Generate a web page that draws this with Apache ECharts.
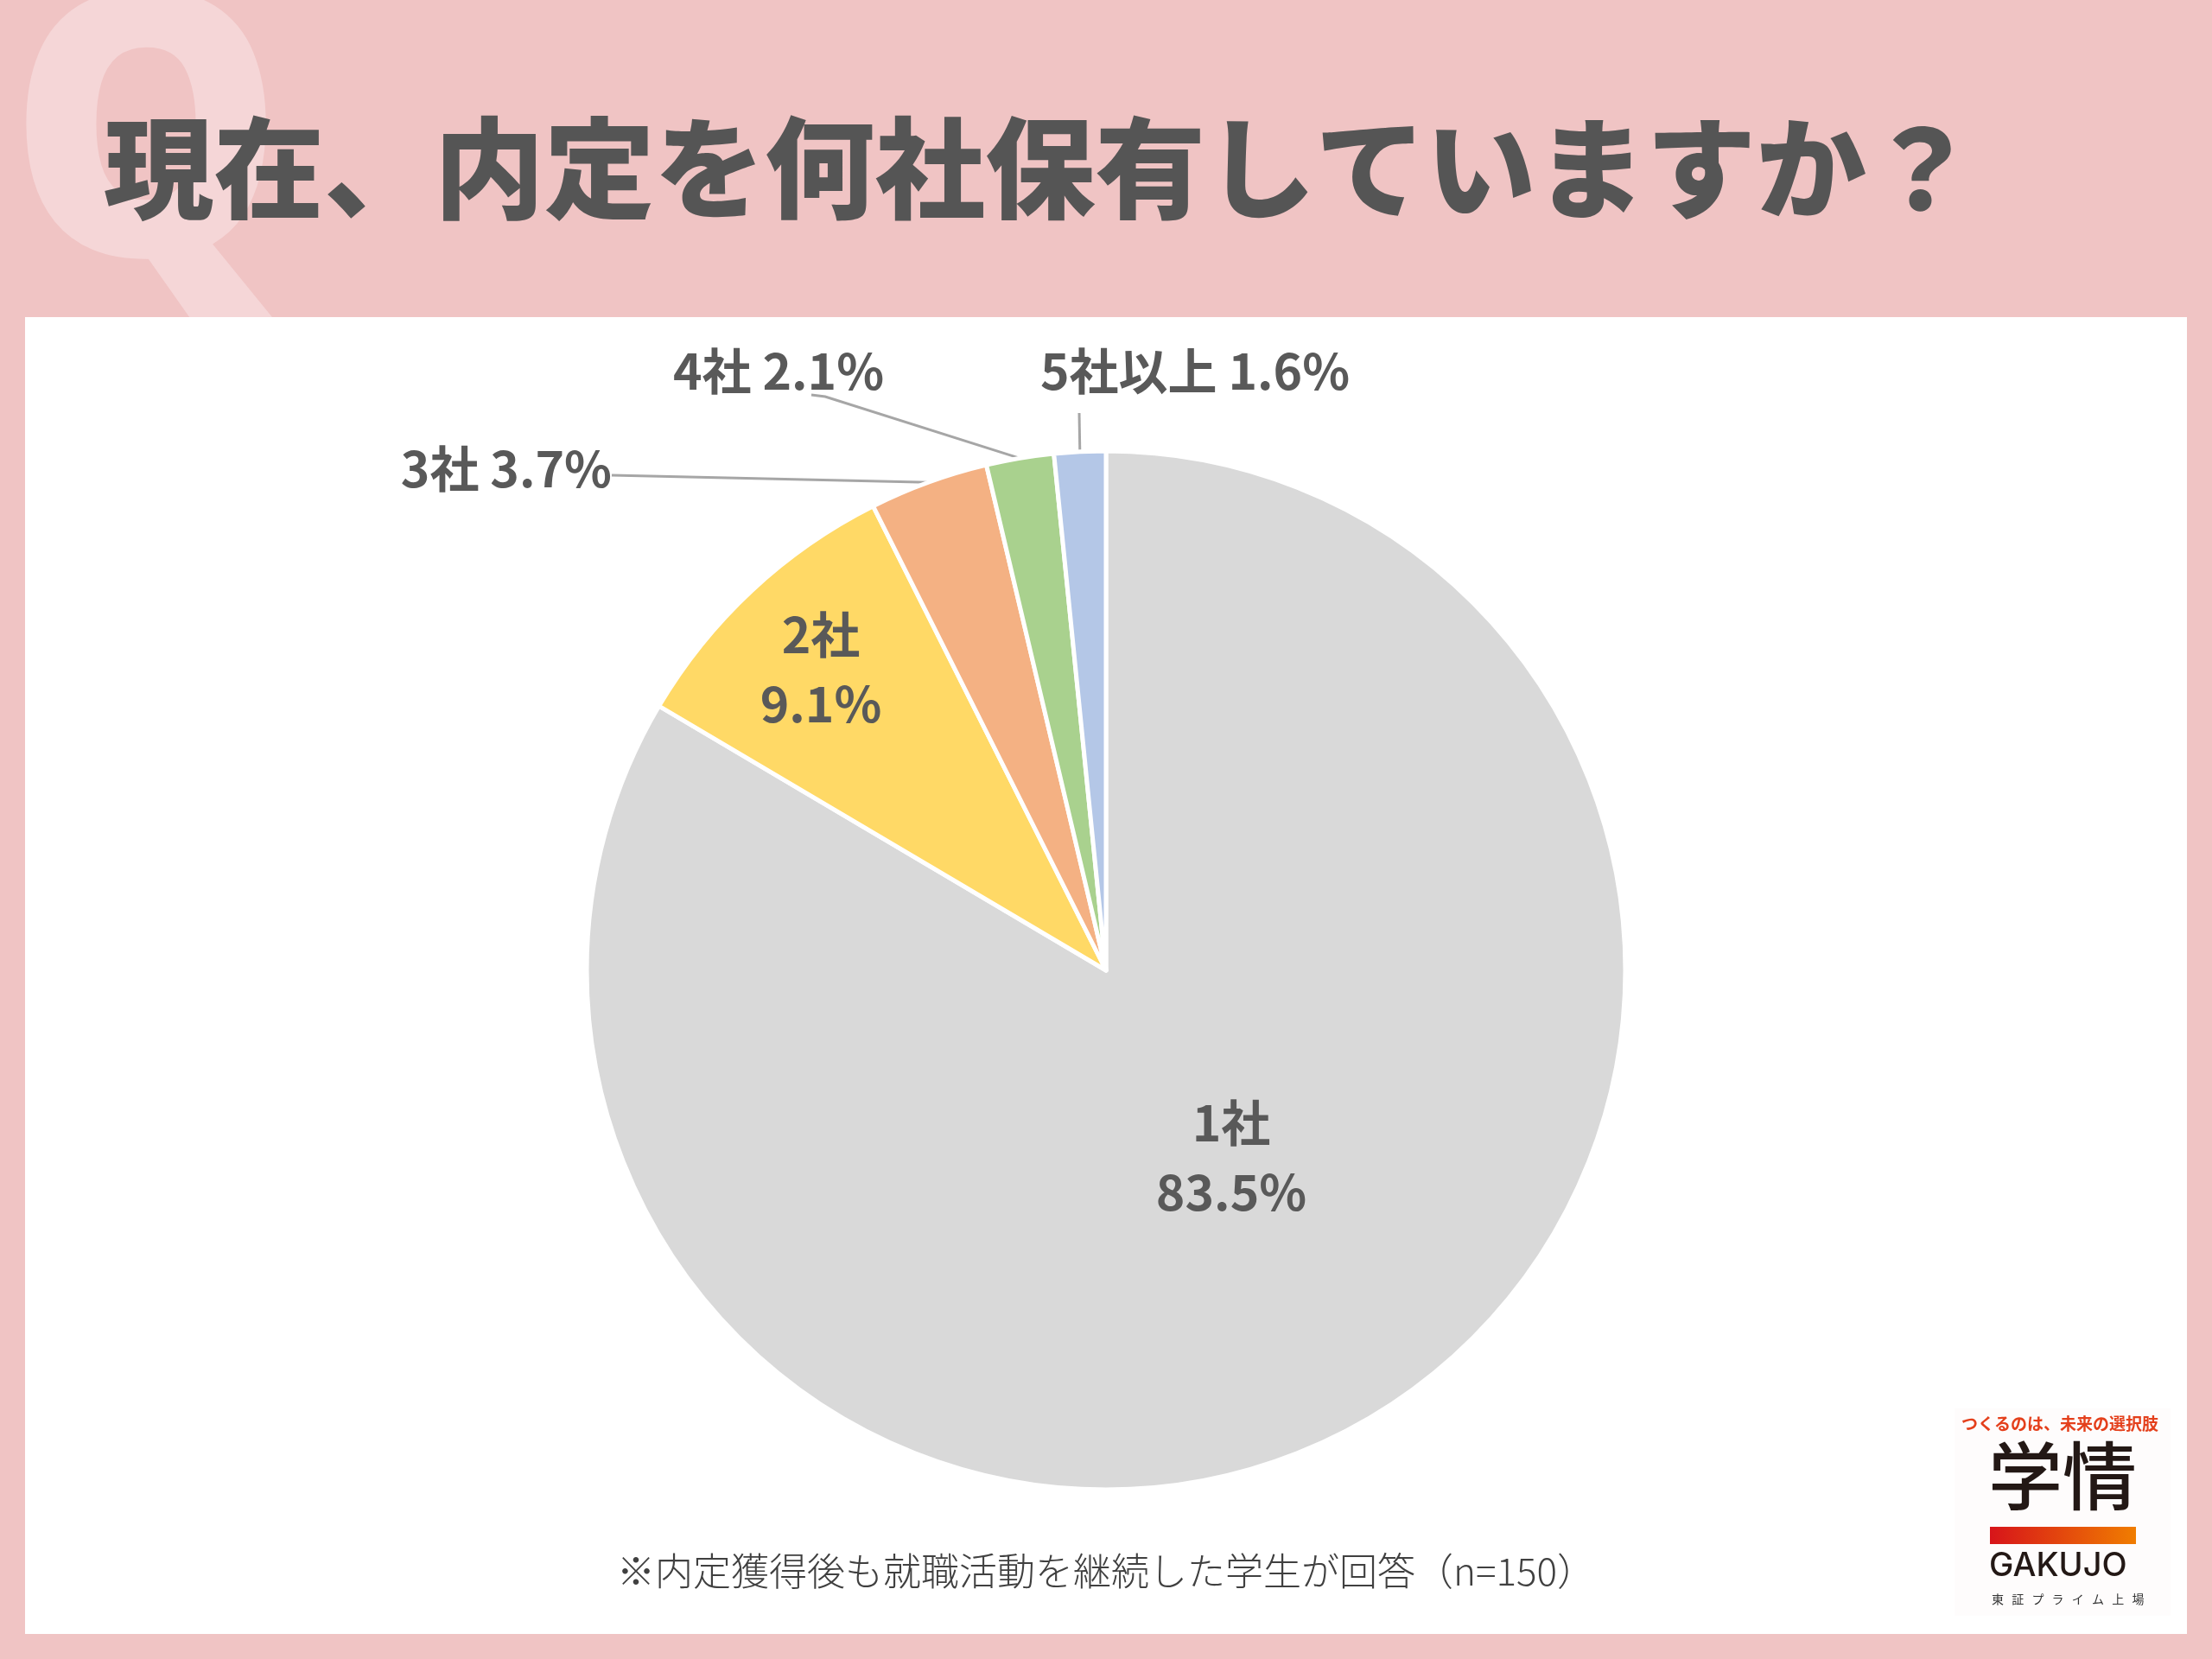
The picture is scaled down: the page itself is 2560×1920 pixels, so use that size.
<!DOCTYPE html>
<html><head><meta charset="utf-8">
<script src="https://cdn.jsdelivr.net/npm/echarts@6/dist/echarts.min.js"></script>
<style>html,body{margin:0;padding:0;background:#F0C4C4}#c{width:2560px;height:1920px}</style>
</head><body><div id="c"></div>
<script>
// ---- data ----
const categories = ['1社', '2社', '3社', '4社', '5社以上'];
const percents = [83.5, 9.1, 3.7, 2.1, 1.6];
const sliceColors = ['#D9D9D9', '#FFD966', '#F4B183', '#A9D18E', '#B4C7E7'];
const titleText = '現在、内定を何社保有していますか？';
const noteText = '※内定獲得後も就職活動を継続した学生が回答（n=150）';
const logoTagline = 'つくるのは、未来の選択肢';
const logoName = '学情';
const logoRoman = 'GAKUJO';
const logoSub = ['東', '証', 'プ', 'ラ', 'イ', 'ム', '上', '場'];

// ---- styling / layout ----
const FONT = '"Noto Sans CJK JP", "Noto Sans", sans-serif';
const insideIdx = [0, 1];
const labelPlace = [
  { x: 1425, y: 1339, align: 'center' },
  { x: 950, y: 774, align: 'center' },
  { x: 708, y: 542, align: 'right', line: [[708, 550]] },
  { x: 901, y: 429, align: 'center', line: [[955, 459], [939, 457]] },
  { x: 1383, y: 429, align: 'center', line: [[1249, 478]] }
];

const chart = echarts.init(document.getElementById('c'), null, { renderer: 'canvas' });

const pieData = categories.map((name, i) => ({
  name: name,
  value: percents[i],
  itemStyle: { color: sliceColors[i] },
  label: insideIdx.includes(i)
    ? { position: 'inside', formatter: '{b}\n{c}%', lineHeight: 80 }
    : { position: 'outside', formatter: '{b} {c}%' },
  labelLine: { show: !insideIdx.includes(i) }
}));

const subChars = logoSub.map((ch, i) => ({
  type: 'text', left: 2305 + i * 23.2, top: 1844, z: 3,
  style: { text: ch, font: '14px ' + FONT, fill: '#333' }
}));

chart.setOption({
  backgroundColor: '#F0C4C4',
  animation: false,
  graphic: [
    { type: 'text', left: 10, top: -38, z: 0, scaleX: 0.94,
      style: { text: 'Q', font: '900 425px "Noto Sans", sans-serif', fill: '#F5D6D7' } },
    { type: 'rect', shape: { x: 29, y: 367, width: 2502, height: 1524 }, z: 1,
      style: { fill: '#FFFFFF' } },
    { type: 'text', left: 120, top: 131, z: 2,
      style: { text: titleText, font: '900 127.5px ' + FONT, fill: '#555555' } },
    { type: 'text', left: 'center', top: 1796, z: 2,
      style: { text: noteText, font: '300 44px ' + FONT, fill: '#404040' } },
    { type: 'rect', shape: { x: 2262, y: 1630, width: 250, height: 240 }, z: 2,
      style: { fill: '#FEFCFC' } },
    { type: 'text', left: 2270, top: 1638, z: 3,
      style: { text: logoTagline, font: 'bold 19px ' + FONT, fill: '#E4401C' } },
    { type: 'text', left: 2301, top: 1665, z: 3,
      style: { text: logoName, font: '500 86px ' + FONT, fill: '#231815' } },
    { type: 'rect', shape: { x: 2303, y: 1767, width: 169, height: 20 }, z: 3,
      style: { fill: new echarts.graphic.LinearGradient(0, 0, 1, 0, [
        { offset: 0, color: '#D7141A' }, { offset: 1, color: '#F07D00' }]) } },
    { type: 'text', left: 2302, top: 1794, z: 3,
      style: { text: logoRoman, font: '500 38px "Inter", "Noto Sans", sans-serif', fill: '#231815' } },
    ...subChars
  ],
  series: [{
    type: 'pie',
    center: [1280, 1123],
    radius: 601,
    startAngle: 90,
    clockwise: true,
    avoidLabelOverlap: false,
    data: pieData,
    itemStyle: { borderColor: '#FFFFFF', borderWidth: 5 },
    label: {
      color: '#595959', fontFamily: FONT, fontWeight: 'bold', fontSize: 57
    },
    labelLine: {
      length: 40, length2: 40,
      lineStyle: { color: '#A6A6A6', width: 3 }
    },
    labelLayout: function (params) {
      const p = labelPlace[params.dataIndex];
      const out = { x: p.x, y: p.y, align: p.align, verticalAlign: 'middle' };
      if (p.line && params.labelLinePoints && params.labelLinePoints.length) {
        out.labelLinePoints = [params.labelLinePoints[0]].concat(p.line);
      }
      return out;
    }
  }]
});
</script>
</body></html>
